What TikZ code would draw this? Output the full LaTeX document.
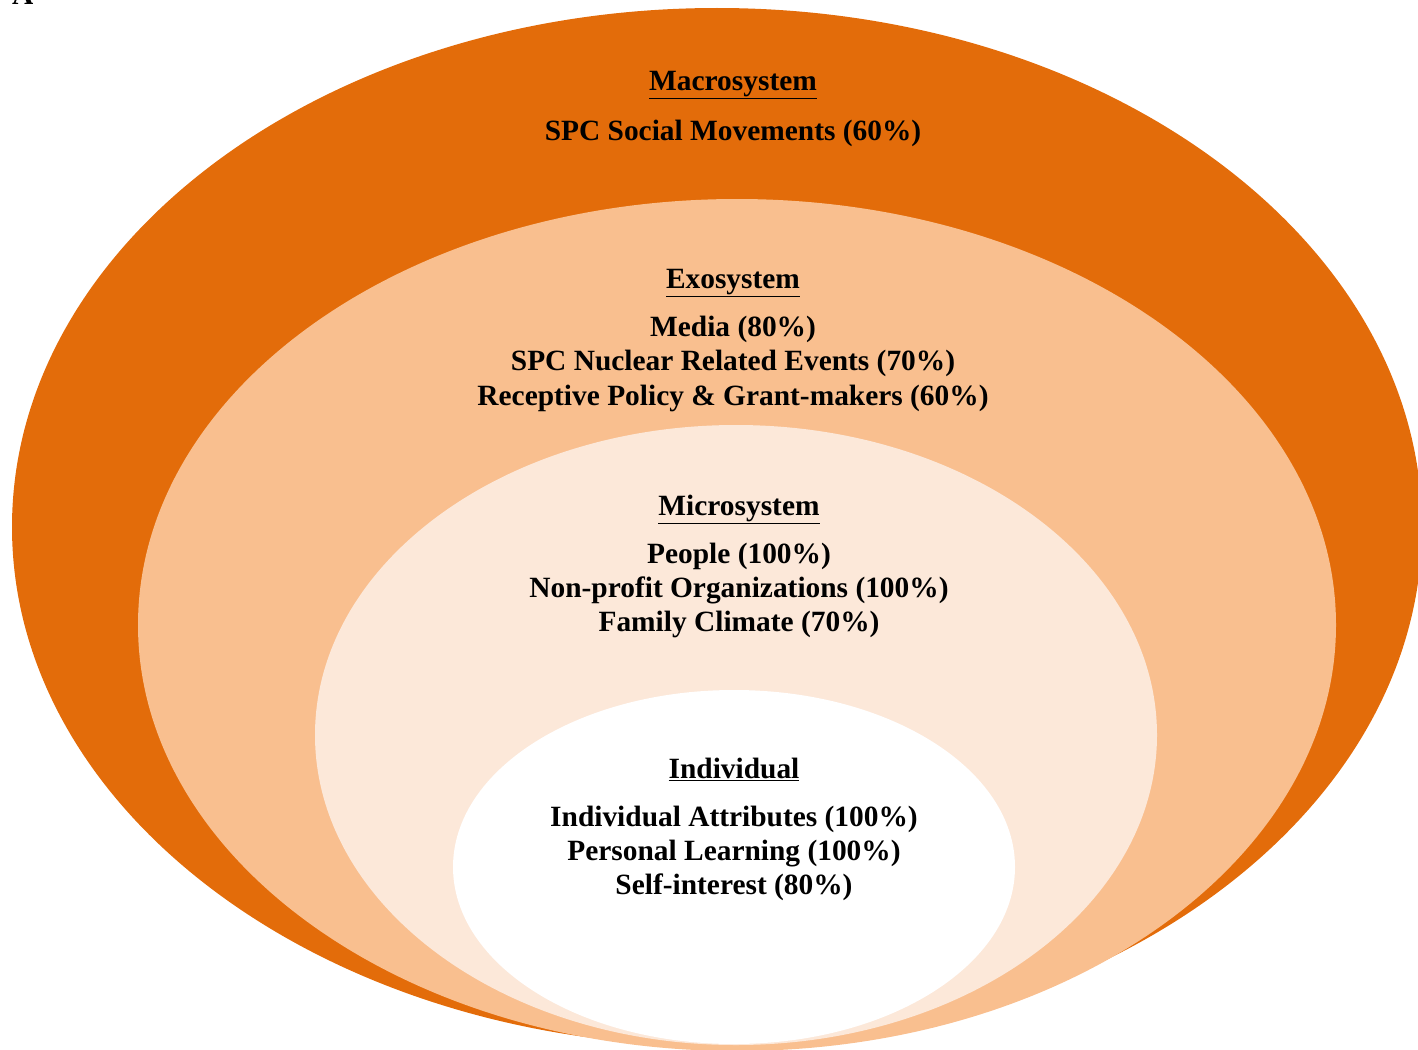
\documentclass[tikz,border=0pt]{standalone}
\usepackage{fontspec}
\setmainfont{Liberation Serif}
\definecolor{macroC}{HTML}{E36C0A}
\definecolor{exoC}{HTML}{F9BF8F}
\definecolor{microC}{HTML}{FCE8D9}
\tikzset{
  lbl/.style={font=\bfseries\fontsize{29.4}{33}\selectfont, inner sep=0pt, anchor=base},
}
\begin{document}
\begin{tikzpicture}[x=1pt,y=-1pt]
\useasboundingbox (0,0) rectangle (1418,1049);
\begin{scope}
\clip (0,0) rectangle (1418,1049);
\fill[macroC] (717,527) ellipse [x radius=705pt, y radius=519pt];
\fill[exoC] (737,625) ellipse [x radius=599pt, y radius=426pt];
\fill[microC] (736,735) ellipse [x radius=421pt, y radius=310pt];
\fill[white] (734,867) ellipse [x radius=281pt, y radius=177pt];
\node[lbl, anchor=base west] (frag) at (12,5) {A};
\end{scope}
\node[lbl] (macro) at (733,90) {\underline{Macrosystem}};
\node[lbl] (macro1) at (733,140) {SPC Social Movements (60\%)};
\node[lbl] (exo) at (733,288) {\underline{Exosystem}};
\node[lbl] (exo1) at (733,336) {Media (80\%)};
\node[lbl] (exo2) at (733,370) {SPC Nuclear Related Events (70\%)};
\node[lbl] (exo3) at (733,405) {Receptive Policy \& Grant-makers (60\%)};
\node[lbl] (micro) at (739,515) {\underline{Microsystem}};
\node[lbl] (micro1) at (739,563) {People (100\%)};
\node[lbl] (micro2) at (739,597) {Non-profit Organizations (100\%)};
\node[lbl] (micro3) at (739,631) {Family Climate (70\%)};
\node[lbl] (ind) at (734,778) {\underline{Individual}};
\node[lbl] (ind1) at (734,826) {Individual Attributes (100\%)};
\node[lbl] (ind2) at (734,860) {Personal Learning (100\%)};
\node[lbl] (ind3) at (734,894) {Self-interest (80\%)};
\end{tikzpicture}
\end{document}
